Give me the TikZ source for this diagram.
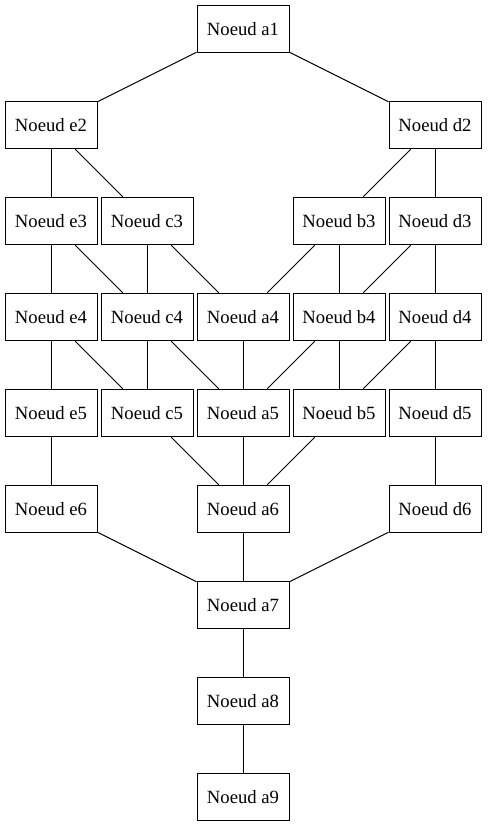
\documentclass[tikz,border=0pt]{standalone}
\usepackage{fontspec}
\setmainfont{Liberation Serif}
\begin{document}
\begin{tikzpicture}[x=0.75pt,y=-0.75pt,
  box/.style={draw,line width=0.75pt,minimum width=69pt,minimum height=35.6pt,inner sep=0pt,font=\fontsize{14}{16}\selectfont},
  link/.style={line width=0.75pt}]
\useasboundingbox (0,0) rectangle (487,827);
% columns: e=51, c=147, a=243, b=339, d=435 ; rows y=29+96k
\node[box] (a1) at (243,29) {Noeud a1};
\node[box] (e2) at (51,125) {Noeud e2};
\node[box] (d2) at (435,125) {Noeud d2};
\node[box] (e3) at (51,221) {Noeud e3};
\node[box] (c3) at (147,221) {Noeud c3};
\node[box] (b3) at (339,221) {Noeud b3};
\node[box] (d3) at (435,221) {Noeud d3};
\node[box] (e4) at (51,317) {Noeud e4};
\node[box] (c4) at (147,317) {Noeud c4};
\node[box] (a4) at (243,317) {Noeud a4};
\node[box] (b4) at (339,317) {Noeud b4};
\node[box] (d4) at (435,317) {Noeud d4};
\node[box] (e5) at (51,413) {Noeud e5};
\node[box] (c5) at (147,413) {Noeud c5};
\node[box] (a5) at (243,413) {Noeud a5};
\node[box] (b5) at (339,413) {Noeud b5};
\node[box] (d5) at (435,413) {Noeud d5};
\node[box] (e6) at (51,509) {Noeud e6};
\node[box] (a6) at (243,509) {Noeud a6};
\node[box] (d6) at (435,509) {Noeud d6};
\node[box] (a7) at (243,605) {Noeud a7};
\node[box] (a8) at (243,701) {Noeud a8};
\node[box] (a9) at (243,797) {Noeud a9};
\foreach \u/\v in {a1/e2,a1/d2,e2/e3,e2/c3,d2/b3,d2/d3,
  e3/e4,e3/c4,c3/c4,c3/a4,b3/a4,b3/b4,d3/b4,d3/d4,
  e4/e5,e4/c5,c4/c5,c4/a5,a4/a5,b4/a5,b4/b5,d4/b5,d4/d5,
  e5/e6,c5/a6,a5/a6,b5/a6,d5/d6,e6/a7,a6/a7,d6/a7,a7/a8,a8/a9}
  \draw[link] (\u) -- (\v);
\end{tikzpicture}
\end{document}
